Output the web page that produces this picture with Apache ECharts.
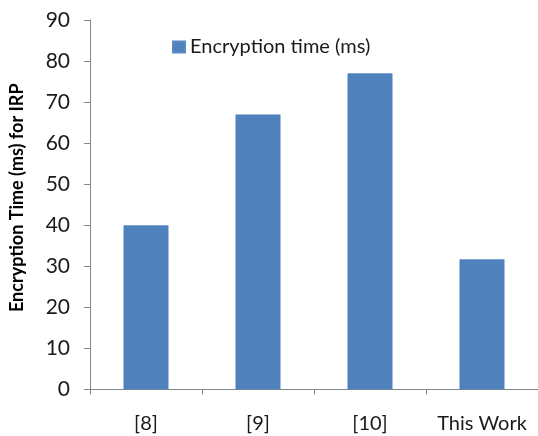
<!DOCTYPE html>
<html>
<head>
<meta charset="utf-8">
<script src="https://cdn.jsdelivr.net/npm/echarts@6/dist/echarts.min.js"></script>
<style>
  html, body { margin: 0; padding: 0; background: #ffffff; }
  #chart { width: 538px; height: 436px; }
</style>
</head>
<body>
<div id="chart"></div>
<script>
// Encryption time per scheme
const categories = ['[8]', '[9]', '[10]', 'This Work'];
const encryptionTime = [40, 67, 77, 31.7];
const seriesName = 'Encryption time (ms)';
const yTitle = 'Encryption Time (ms) for IRP';

const FONT = 'Lato, "Open Sans", sans-serif';
const AXIS_GRAY = '#868686';

const chart = echarts.init(document.getElementById('chart'), null, { renderer: 'canvas' });

chart.setOption({
  animation: false,
  backgroundColor: '#ffffff',
  textStyle: { fontFamily: FONT },
  grid: { left: 86, top: 20, width: 456, height: 369.5, containLabel: false },
  legend: {
    data: [seriesName],
    left: 167,
    top: 32,
    padding: 5,
    itemWidth: 12,
    itemHeight: 11,
    itemGap: 6,
    icon: 'rect',
    textStyle: { fontFamily: FONT, fontSize: 20, color: '#1a1a1a' }
  },
  xAxis: {
    type: 'category',
    data: categories,
    axisLine: { lineStyle: { color: AXIS_GRAY, width: 1 } },
    axisTick: { show: true, alignWithLabel: false, interval: 0, length: 5, lineStyle: { color: AXIS_GRAY } },
    axisLabel: { fontFamily: FONT, fontSize: 20, color: '#1a1a1a', margin: 24, interval: 0, hideOverlap: false },
    splitLine: { show: false }
  },
  yAxis: {
    type: 'value',
    min: 0,
    max: 90,
    interval: 10,
    name: yTitle,
    nameLocation: 'middle',
    nameGap: 64,
    nameTextStyle: { fontFamily: FONT, fontSize: 18, fontWeight: 'bold', color: '#000000', padding: [0, 0, 0, 14] },
    axisLine: { show: true, lineStyle: { color: AXIS_GRAY, width: 1 } },
    axisTick: { show: true, length: 6, lineStyle: { color: AXIS_GRAY } },
    axisLabel: { fontFamily: FONT, fontSize: 21, color: '#1a1a1a', margin: 20 },
    splitLine: { show: false }
  },
  series: [{
    name: seriesName,
    type: 'bar',
    data: encryptionTime,
    barWidth: 45,
    itemStyle: { color: '#4F81BD', borderColor: '#5a8ac6', borderWidth: 0.5 }
  }]
});
</script>
</body>
</html>
